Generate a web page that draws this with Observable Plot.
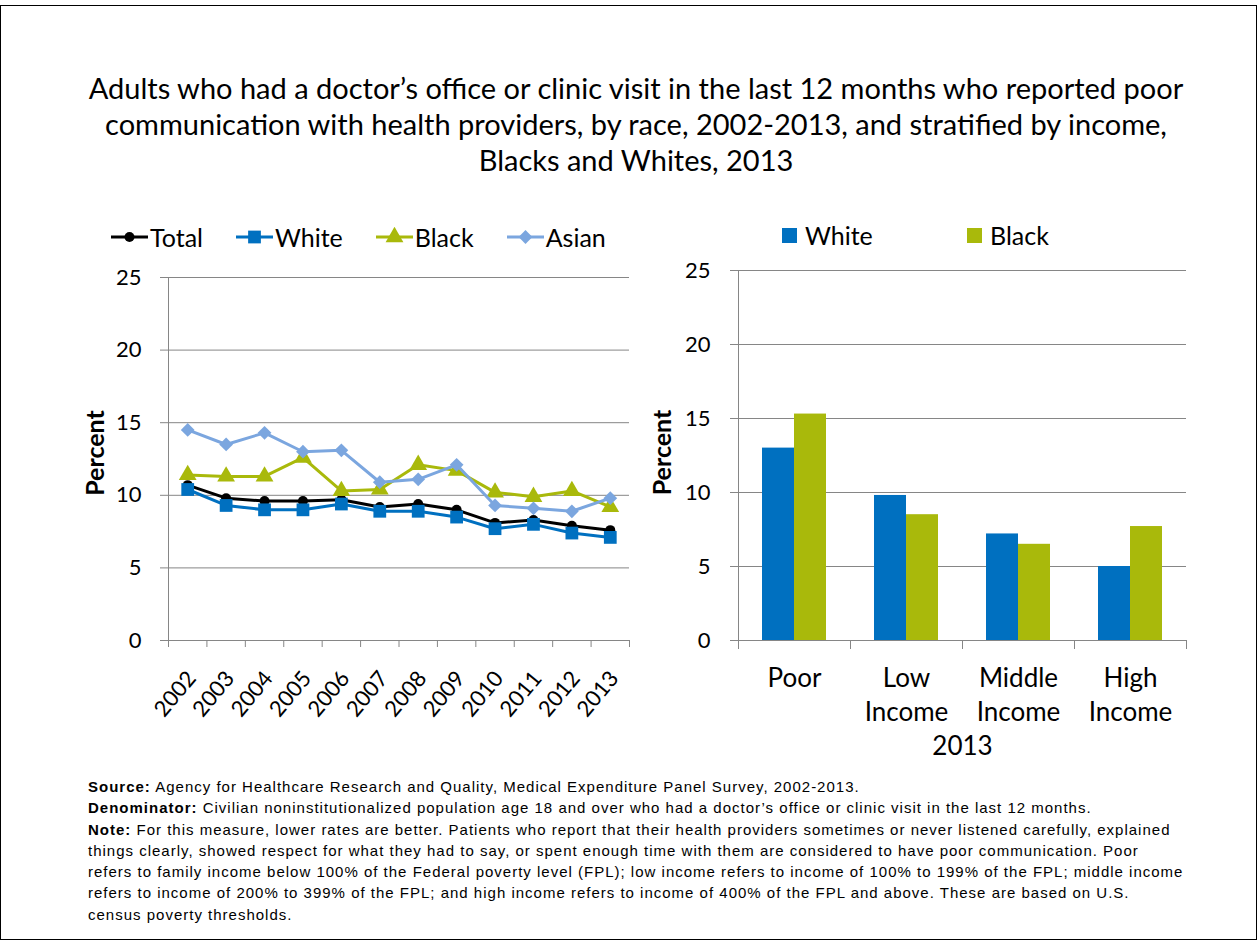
<!DOCTYPE html>
<html>
<head>
<meta charset="utf-8">
<script src="https://cdn.jsdelivr.net/npm/d3@7"></script>
<script src="https://cdn.jsdelivr.net/npm/@observablehq/plot@0.6"></script>
<style>
  html, body { margin: 0; padding: 0; background: #fff; }
  #page { position: relative; width: 1259px; height: 941px; overflow: hidden; font-family: Lato, "Open Sans", sans-serif; color: #000; }
  #border { position: absolute; left: 0; top: 5px; width: 1257px; height: 935px; border: 1px solid #000; box-sizing: border-box; }
  #title { position: absolute; left: 0; top: 70px; width: 1272px; text-align: center; font-size: 29px; line-height: 36px; white-space: nowrap; }
  .legend { position: absolute; display: flex; align-items: center; font-size: 25px; line-height: 28px; white-space: nowrap; }
  .legend .item { display: flex; align-items: center; }
  #legendLeft { left: 111px; top: 223px; gap: 33px; }
  #legendLeft svg { margin-right: 2px; }
  #legendRight { left: 782px; top: 221px; }
  #legendRight .item { width: 185px; }
  #legendRight .sw { width: 15px; height: 15px; margin-right: 8px; }
  .chart { position: absolute; }
  #leftChart { left: 0; top: 260px; }
  #rightChart { left: 640px; top: 250px; }
  #notes { position: absolute; left: 88px; top: 776px; font-family: "Liberation Sans", Arial, sans-serif; font-size: 15px; letter-spacing: 1px; line-height: 21.3px; white-space: nowrap; }
</style>
</head>
<body>
<div id="page">
  <div id="border"></div>
  <div id="title">Adults who had a doctor’s office or clinic visit in the last 12 months who reported poor<br>communication with health providers, by race, 2002-2013, and stratified by income,<br>Blacks and Whites, 2013</div>
  <div id="legendLeft" class="legend"></div>
  <div id="legendRight" class="legend"></div>
  <div id="leftChart" class="chart"></div>
  <div id="rightChart" class="chart"></div>
  <div id="notes">
    <div><b>Source:</b> Agency for Healthcare Research and Quality, Medical Expenditure Panel Survey, 2002-2013.</div>
    <div><b>Denominator:</b> Civilian noninstitutionalized population age 18 and over who had a doctor’s office or clinic visit in the last 12 months.</div>
    <div><b>Note:</b> For this measure, lower rates are better. Patients who report that their health providers sometimes or never listened carefully, explained</div>
    <div>things clearly, showed respect for what they had to say, or spent enough time with them are considered to have poor communication. Poor</div>
    <div>refers to family income below 100% of the Federal poverty level (FPL); low income refers to income of 100% to 199% of the FPL; middle income</div>
    <div>refers to income of 200% to 399% of the FPL; and high income refers to income of 400% of the FPL and above. These are based on U.S.</div>
    <div>census poverty thresholds.</div>
  </div>
</div>
<script>
// ---------------- DATA ----------------
const years = [2002, 2003, 2004, 2005, 2006, 2007, 2008, 2009, 2010, 2011, 2012, 2013];
const totalValues = [10.7, 9.8, 9.6, 9.6, 9.7, 9.2, 9.4, 9.0, 8.1, 8.3, 7.9, 7.6];
const whiteValues = [10.4, 9.3, 9.0, 9.0, 9.4, 8.9, 8.9, 8.5, 7.7, 8.0, 7.4, 7.1];
const blackValues = [11.4, 11.3, 11.3, 12.6, 10.3, 10.4, 12.1, 11.7, 10.2, 9.9, 10.3, 9.2];
const asianValues = [14.5, 13.5, 14.3, 13.0, 13.1, 10.9, 11.1, 12.1, 9.3, 9.1, 8.9, 9.8];
const seriesNames = ["Total", "White", "Black", "Asian"];
const yTicks = [0, 5, 10, 15, 20, 25];

const incomeGroups = ["Poor", "Low\nIncome", "Middle\nIncome", "High\nIncome"];
const barRaces = ["White", "Black"];
const whiteIncome = [13.0, 9.8, 7.2, 5.0];
const blackIncome = [15.3, 8.5, 6.5, 7.7];
const incomeYear = "2013";

// ---------------- STYLE ----------------
const seriesColors = ["#000000", "#0070C0", "#A9B90B", "#7BA6DF"];
const seriesSymbols = ["circle", "square", "triangle", "diamond2"];
const seriesRadius = [5, 7.2, 6.6, 6.2];
const barColors = ["#0070C0", "#A9B90B"];
const gridColor = "#868686";
const d3Symbols = { circle: d3.symbolCircle, square: d3.symbolSquare, triangle: d3.symbolTriangle, diamond2: d3.symbolDiamond2 };

// ---------------- LEFT CHART ----------------
const seriesValues = [totalValues, whiteValues, blackValues, asianValues];
const lineRows = [];
seriesNames.forEach((name, k) => years.forEach((yr, i) => lineRows.push({ series: name, year: yr, value: seriesValues[k][i] })));
const bounds = years.map(y => y - 0.5).concat([years[years.length - 1] + 0.5]);

const seriesMarks = seriesNames.flatMap((name, k) => {
  const rows = lineRows.filter(d => d.series === name);
  return [
    Plot.line(rows, { x: "year", y: "value", stroke: seriesColors[k], strokeWidth: 3 }),
    Plot.dot(rows, { x: "year", y: "value", symbol: seriesSymbols[k], r: seriesRadius[k], fill: seriesColors[k], stroke: "none" })
  ];
});

const leftPlot = Plot.plot({
  width: 660, height: 460,
  marginLeft: 168, marginRight: 31, marginTop: 17, marginBottom: 80,
  style: { fontFamily: "Lato, sans-serif", fontSize: "22px", color: "#000", background: "transparent", overflow: "visible" },
  x: { type: "linear", domain: [bounds[0], bounds[bounds.length - 1]] },
  y: { domain: [0, 25] },
  marks: [
    Plot.gridY(yTicks, { stroke: gridColor, strokeOpacity: 1 }),
    Plot.axisY(yTicks, { tickSize: 8, tickPadding: 19, stroke: gridColor, label: null, tickFormat: d => String(d) }),
    Plot.ruleX([bounds[0]], { stroke: gridColor }),
    Plot.axisX(bounds, { tickSize: 7, stroke: gridColor, tickFormat: () => "", label: null }),
    Plot.axisX(years, { tickSize: 0, tickPadding: 24, dx: 4, dy: 10, tickRotate: -50, tickFormat: d => String(d), label: null }),
    Plot.text(["Percent"], { frameAnchor: "left", textAnchor: "middle", rotate: -90, dx: -73, dy: -6, fontWeight: "bold", fontSize: 25, text: d => d }),
    ...seriesMarks
  ]
});
document.getElementById("leftChart").append(leftPlot);

// ---------------- RIGHT CHART ----------------
const barRows = [];
incomeGroups.forEach((g, i) => {
  barRows.push({ group: g, race: barRaces[0], value: whiteIncome[i] });
  barRows.push({ group: g, race: barRaces[1], value: blackIncome[i] });
});

const rightPlot = Plot.plot({
  width: 600, height: 520,
  marginLeft: 98, marginRight: 54, marginTop: 20, marginBottom: 130,
  style: { fontFamily: "Lato, sans-serif", fontSize: "22px", color: "#000", background: "transparent", overflow: "visible" },
  fx: { domain: incomeGroups, padding: 0 },
  x: { domain: barRaces, paddingInner: 0, paddingOuter: 0.75, axis: null },
  y: { domain: [0, 25] },
  color: { type: "ordinal", domain: barRaces, range: barColors },
  marks: [
    Plot.gridY(yTicks, { stroke: gridColor, strokeOpacity: 1 }),
    Plot.axisY(yTicks, { tickSize: 8, tickPadding: 20, stroke: gridColor, label: null, tickFormat: d => String(d) }),
    Plot.frame({ anchor: "left", stroke: gridColor, facetAnchor: "left" }),
    Plot.frame({ anchor: "left", stroke: gridColor, insetTop: 370, insetBottom: -8 }),
    Plot.frame({ anchor: "right", stroke: gridColor, insetTop: 370, insetBottom: -8, facetAnchor: "right" }),
    Plot.barY(barRows, { fx: "group", x: "race", y: "value", fill: { value: "race", scale: "color" } }),
    Plot.axisFx({ anchor: "bottom", tickSize: 0, tickPadding: 22, fontSize: 26, lineHeight: 1.31, label: incomeYear, labelAnchor: "center", labelArrow: "none", labelOffset: 114 }),
    Plot.text(["Percent"], { frameAnchor: "left", textAnchor: "middle", rotate: -90, dx: -76, dy: -3, fontWeight: "bold", fontSize: 25, text: d => d, facetAnchor: "left" })
  ]
});
document.getElementById("rightChart").append(rightPlot);

// ---------------- LEGENDS ----------------
const legL = d3.select("#legendLeft");
seriesNames.forEach((name, k) => {
  const item = legL.append("div").attr("class", "item");
  const svg = item.append("svg").attr("width", 37).attr("height", 20);
  svg.append("line").attr("x1", 0).attr("x2", 37).attr("y1", 10).attr("y2", 10).attr("stroke", seriesColors[k]).attr("stroke-width", 3);
  svg.append("path").attr("transform", "translate(18.5,10)")
    .attr("d", d3.symbol(d3Symbols[seriesSymbols[k]], Math.PI * seriesRadius[k] * seriesRadius[k])())
    .attr("fill", seriesColors[k]);
  item.append("span").text(name);
});
const legR = d3.select("#legendRight");
barRaces.forEach((name, k) => {
  const item = legR.append("div").attr("class", "item");
  item.append("div").attr("class", "sw").style("background", barColors[k]);
  item.append("span").text(name);
});
</script>
</body>
</html>
